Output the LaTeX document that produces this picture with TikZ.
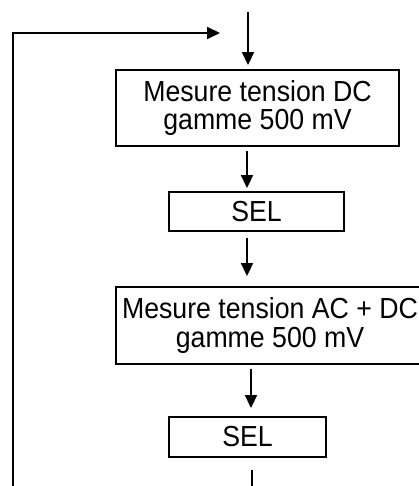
\documentclass[tikz,border=0pt]{standalone}
\usepackage{fontspec}
\setmainfont{Liberation Sans}[FakeStretch=0.92]
\usetikzlibrary{arrows.meta}
\begin{document}
\begin{tikzpicture}[x=1pt,y=-1pt,
  box/.style={draw,line width=1.9pt,rectangle,inner sep=0pt,align=center,
    font=\fontsize{29}{28.4}\selectfont},
  arr/.style={line width=1.9pt,-{Triangle[length=13pt,width=12pt]}},
  ln/.style={line width=1.9pt}]
\useasboundingbox (0,0) rectangle (419,486);
\node[box,minimum width=283pt,minimum height=76pt] (b1) at (257.5,108) {Mesure tension DC\\gamme 500 mV};
\node[box,minimum width=175pt,minimum height=39pt] (s1) at (256.5,211.5) {SEL};
\node[box,minimum width=308pt,minimum height=77pt] (b2) at (270,325.5) {Mesure tension AC + DC\\gamme 500 mV};
\node[box,minimum width=157pt,minimum height=40pt] (s2) at (247.5,437) {SEL};
\coordinate (top) at (248,12);
\coordinate (loopin) at (220,33);
\coordinate (loopcorner) at (13,33);
\coordinate (loopstart) at (13,486);
\coordinate (out) at (252,486);
\draw[arr,shorten >=4pt] (top) -- (top |- b1.north);
\draw[arr,shorten <=4pt,shorten >=3pt] (247,0 |- b1.south) -- (247,0 |- s1.north);
\draw[arr,shorten <=6pt,shorten >=10pt] (247,0 |- s1.south) -- (247,0 |- b2.north);
\draw[arr,shorten <=4pt,shorten >=8pt] (251,0 |- b2.south) -- (251,0 |- s2.north);
\draw[ln,shorten <=12pt] (out |- s2.south) -- (out);
\draw[arr] (loopstart) -- (loopcorner) -- (loopin);
\end{tikzpicture}
\end{document}
